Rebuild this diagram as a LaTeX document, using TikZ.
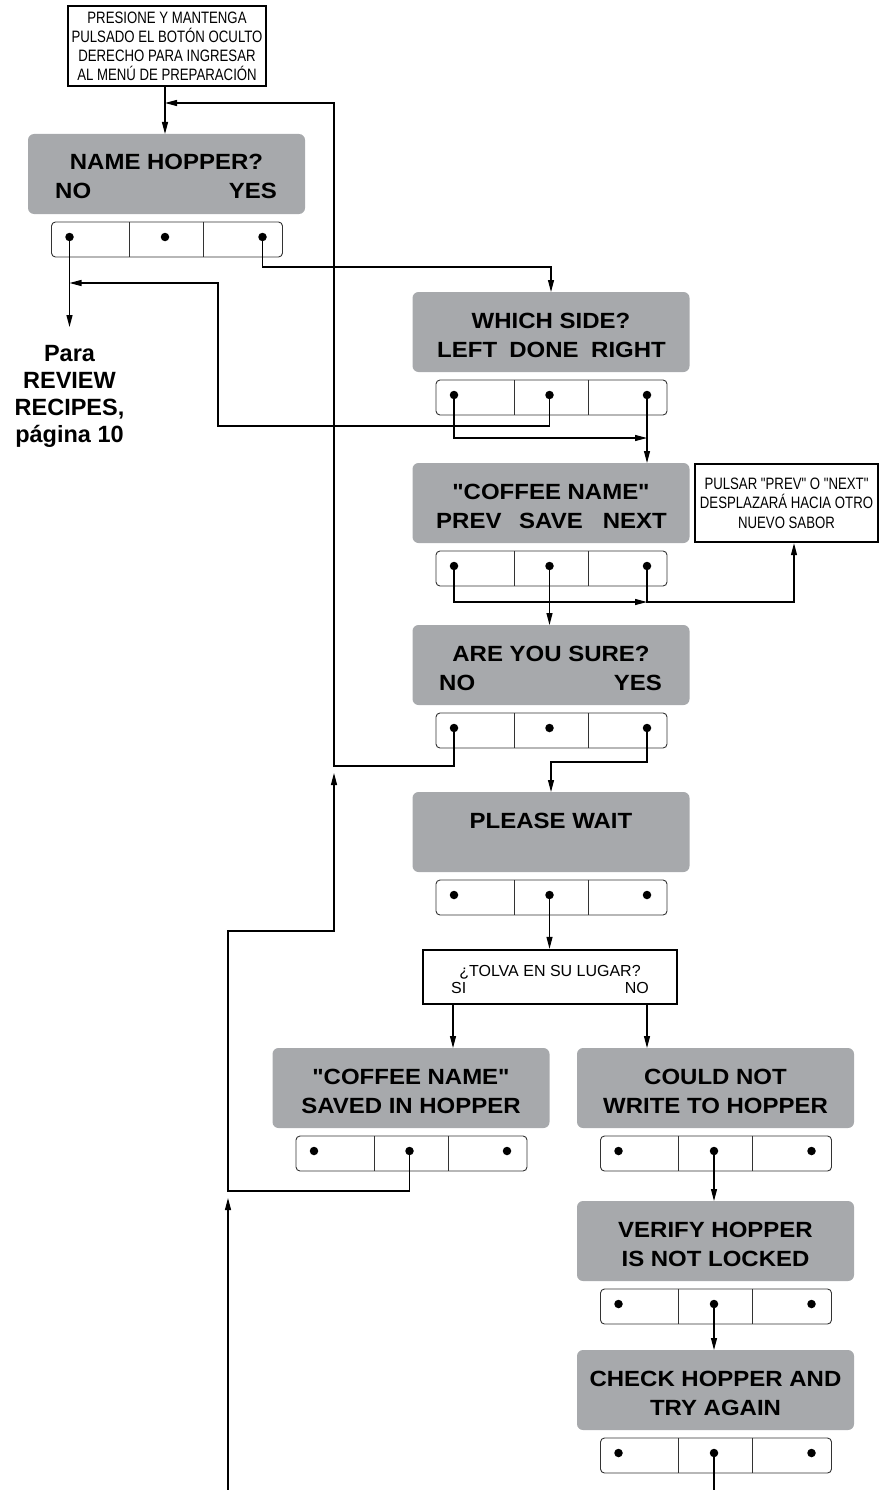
\documentclass[tikz,border=0pt]{standalone}
\usepackage{fontspec}
\setmainfont{Liberation Sans}
\newfontfamily\condfont[FakeStretch=0.8]{Liberation Sans}
\newfontfamily\panelfont[FakeStretch=1.09]{Liberation Sans}
\usetikzlibrary{arrows.meta}
\definecolor{panelgray}{HTML}{A7A9AC}
\newcommand\panel[3]{%
  \node[graybox] (#1-box) at (#2,#3+40) {};
  \node[barbox] (#1-bar) at (#2+0.5,#3+105.5) {};
  \draw[divider] (#2-37,#3+88) -- (#2-37,#3+123);
  \draw[divider] (#2+37,#3+88) -- (#2+37,#3+123);
  \node[dot] (#1-l) at (#2-97,#3+103) {};
  \node[dot] (#1-m) at (#2-1.5,#3+103) {};
  \node[dot] (#1-r) at (#2+96,#3+103) {};
}
\begin{document}
\begin{tikzpicture}[x=1pt,y=-1pt,
 graybox/.style={fill=panelgray, rounded corners=6pt, minimum width=277pt, minimum height=80pt, inner sep=0pt, outer sep=0pt},
 barbox/.style={draw=black!80, line width=0.9pt, rounded corners=4pt, minimum width=231pt, minimum height=35pt, inner sep=0pt, outer sep=0pt, fill=white},
 dot/.style={circle, fill=black, minimum size=8.5pt, inner sep=0pt, outer sep=0pt},
 divider/.style={draw=black!80, line width=0.9pt},
 conn/.style={line width=1.2pt},
 arr/.style={conn, -{Triangle[length=12pt,width=6pt]}},
 btxt/.style={font=\panelfont\fontsize{22}{26}\selectfont\bfseries, inner sep=0pt},
 thickbox/.style={draw, line width=2.4pt, fill=white, inner sep=0pt},
 ntxt/.style={font=\fontsize{16}{19}\selectfont, inner sep=0pt},
]
\useasboundingbox (0,0) rectangle (881,1490);

% ---- panels
\panel{nh}{166.5}{134}
\panel{ws}{551}{292}
\panel{cf}{551}{463}
\panel{su}{551}{625}
\panel{wt}{551}{792}
\panel{sv}{411}{1048}
\panel{co}{715.5}{1048}
\panel{vf}{715.5}{1201}
\panel{ck}{715.5}{1350}

% ---- panel texts
\node[btxt, anchor=base] (nh-t1) at (166.5,170) {NAME HOPPER?};
\node[btxt, anchor=base west] (nh-t2) at (55,199) {NO};
\node[btxt, anchor=base east] (nh-t3) at (277,199) {YES};

\node[btxt, anchor=base] (ws-t1) at (551,328) {WHICH SIDE?};
\node[btxt, anchor=base west] (ws-t2) at (437,357) {LEFT};
\node[btxt, anchor=base] (ws-t3) at (544,357) {DONE};
\node[btxt, anchor=base east] (ws-t4) at (666,357) {RIGHT};

\node[btxt, anchor=base] (cf-t1) at (551,499) {"COFFEE NAME"};
\node[btxt, anchor=base west] (cf-t2) at (436,528) {PREV};
\node[btxt, anchor=base] (cf-t3) at (551,528) {SAVE};
\node[btxt, anchor=base east] (cf-t4) at (667,528) {NEXT};

\node[btxt, anchor=base] (su-t1) at (551,661) {ARE YOU SURE?};
\node[btxt, anchor=base west] (su-t2) at (439,690) {NO};
\node[btxt, anchor=base east] (su-t3) at (662,690) {YES};

\node[btxt, anchor=base] (wt-t1) at (551,828) {PLEASE WAIT};

\node[btxt, anchor=base] (sv-t1) at (411,1084) {"COFFEE NAME"};
\node[btxt, anchor=base] (sv-t2) at (411,1113) {SAVED IN HOPPER};

\node[btxt, anchor=base] (co-t1) at (715.5,1084) {COULD NOT};
\node[btxt, anchor=base] (co-t2) at (715.5,1113) {WRITE TO HOPPER};

\node[btxt, anchor=base] (vf-t1) at (715.5,1237) {VERIFY HOPPER};
\node[btxt, anchor=base] (vf-t2) at (715.5,1266) {IS NOT LOCKED};

\node[btxt, anchor=base] (ck-t1) at (715.5,1386) {CHECK HOPPER AND};
\node[btxt, anchor=base] (ck-t2) at (715.5,1415) {TRY AGAIN};

% ---- boxed notes
\node[thickbox, minimum width=198pt, minimum height=80pt, align=center,
      font=\condfont\fontsize{16.5}{19}\selectfont] (topbox) at (167,46)
  {PRESIONE Y MANTENGA\\PULSADO EL BOTÓN OCULTO\\DERECHO PARA INGRESAR\\AL MENÚ DE PREPARACIÓN};

\node[thickbox, minimum width=183pt, minimum height=78pt, align=center,
      font=\condfont\fontsize{16.5}{19.5}\selectfont] (note) at (786.5,503)
  {PULSAR "PREV" O "NEXT"\\DESPLAZARÁ HACIA OTRO\\NUEVO SABOR};

\node[thickbox, minimum width=254pt, minimum height=54pt] (tolva) at (550,977) {};
\node[ntxt, anchor=base] (tolva-q) at (550,976) {¿TOLVA EN SU LUGAR?};
\node[ntxt, anchor=base west] (tolva-si) at (451,993) {SI};
\node[ntxt, anchor=base east] (tolva-no) at (649,993) {NO};

\node[inner sep=0pt, align=center, font=\fontsize{23.5}{27}\selectfont\bfseries] (para) at (69.5,396.5)
  {Para\\REVIEW\\RECIPES,\\página 10};

% ---- coordinates
\coordinate (j-top) at (165,103);
\coordinate (j-no) at (0,283);
\coordinate (pa) at (69.5,327);
\coordinate (j-yes) at (551,267);
\coordinate (j-a) at (0,438);
\coordinate (j-b) at (0,602);
\coordinate (j-c) at (794,602);
\coordinate (j-su) at (551,762);
\coordinate (j-si) at (453,0);
\coordinate (j-tno) at (647,0);
\coordinate (bot-l) at (228,1490);
\coordinate (bot-r) at (0,1490);

% ---- connectors
\draw[arr] (topbox.south -| nh-m) -- (nh-box.north -| nh-m);
\draw[arr] (su-l) |- (334,766) |- (j-top);
\draw[arr] (sv-m) |- (228,1191) |- (334,931) -- (334,773);
\draw[arr] (bot-l) -- (228,1198);
\draw[arr] (nh-l) -- (pa);
\draw[arr] (ws-m) |- (218,426) |- (nh-l |- j-no);
\draw[arr] (nh-r) |- (j-yes) -- (ws-box.north);
\draw[arr] (ws-l) |- (ws-r |- j-a);
\draw[arr] (ws-r) -- (ws-r |- cf-box.north);
\draw[arr] (cf-l) |- (cf-r |- j-b);
\draw[arr] (cf-r) |- (j-c) -- (j-c |- note.south);
\draw[arr] (cf-m) -- (cf-m |- su-box.north);
\draw[arr] (su-r) |- (j-su) -- (wt-box.north);
\draw[arr] (wt-m) -- (wt-m |- tolva.north);
\draw[arr] (tolva.south -| j-si) -- (j-si |- sv-box.north);
\draw[arr] (tolva.south -| j-tno) -- (j-tno |- co-box.north);
\draw[arr] (co-m) -- (co-m |- vf-box.north);
\draw[arr] (vf-m) -- (vf-m |- ck-box.north);
\draw[conn] (ck-m) -- (ck-m |- bot-r);
\end{tikzpicture}
\end{document}
